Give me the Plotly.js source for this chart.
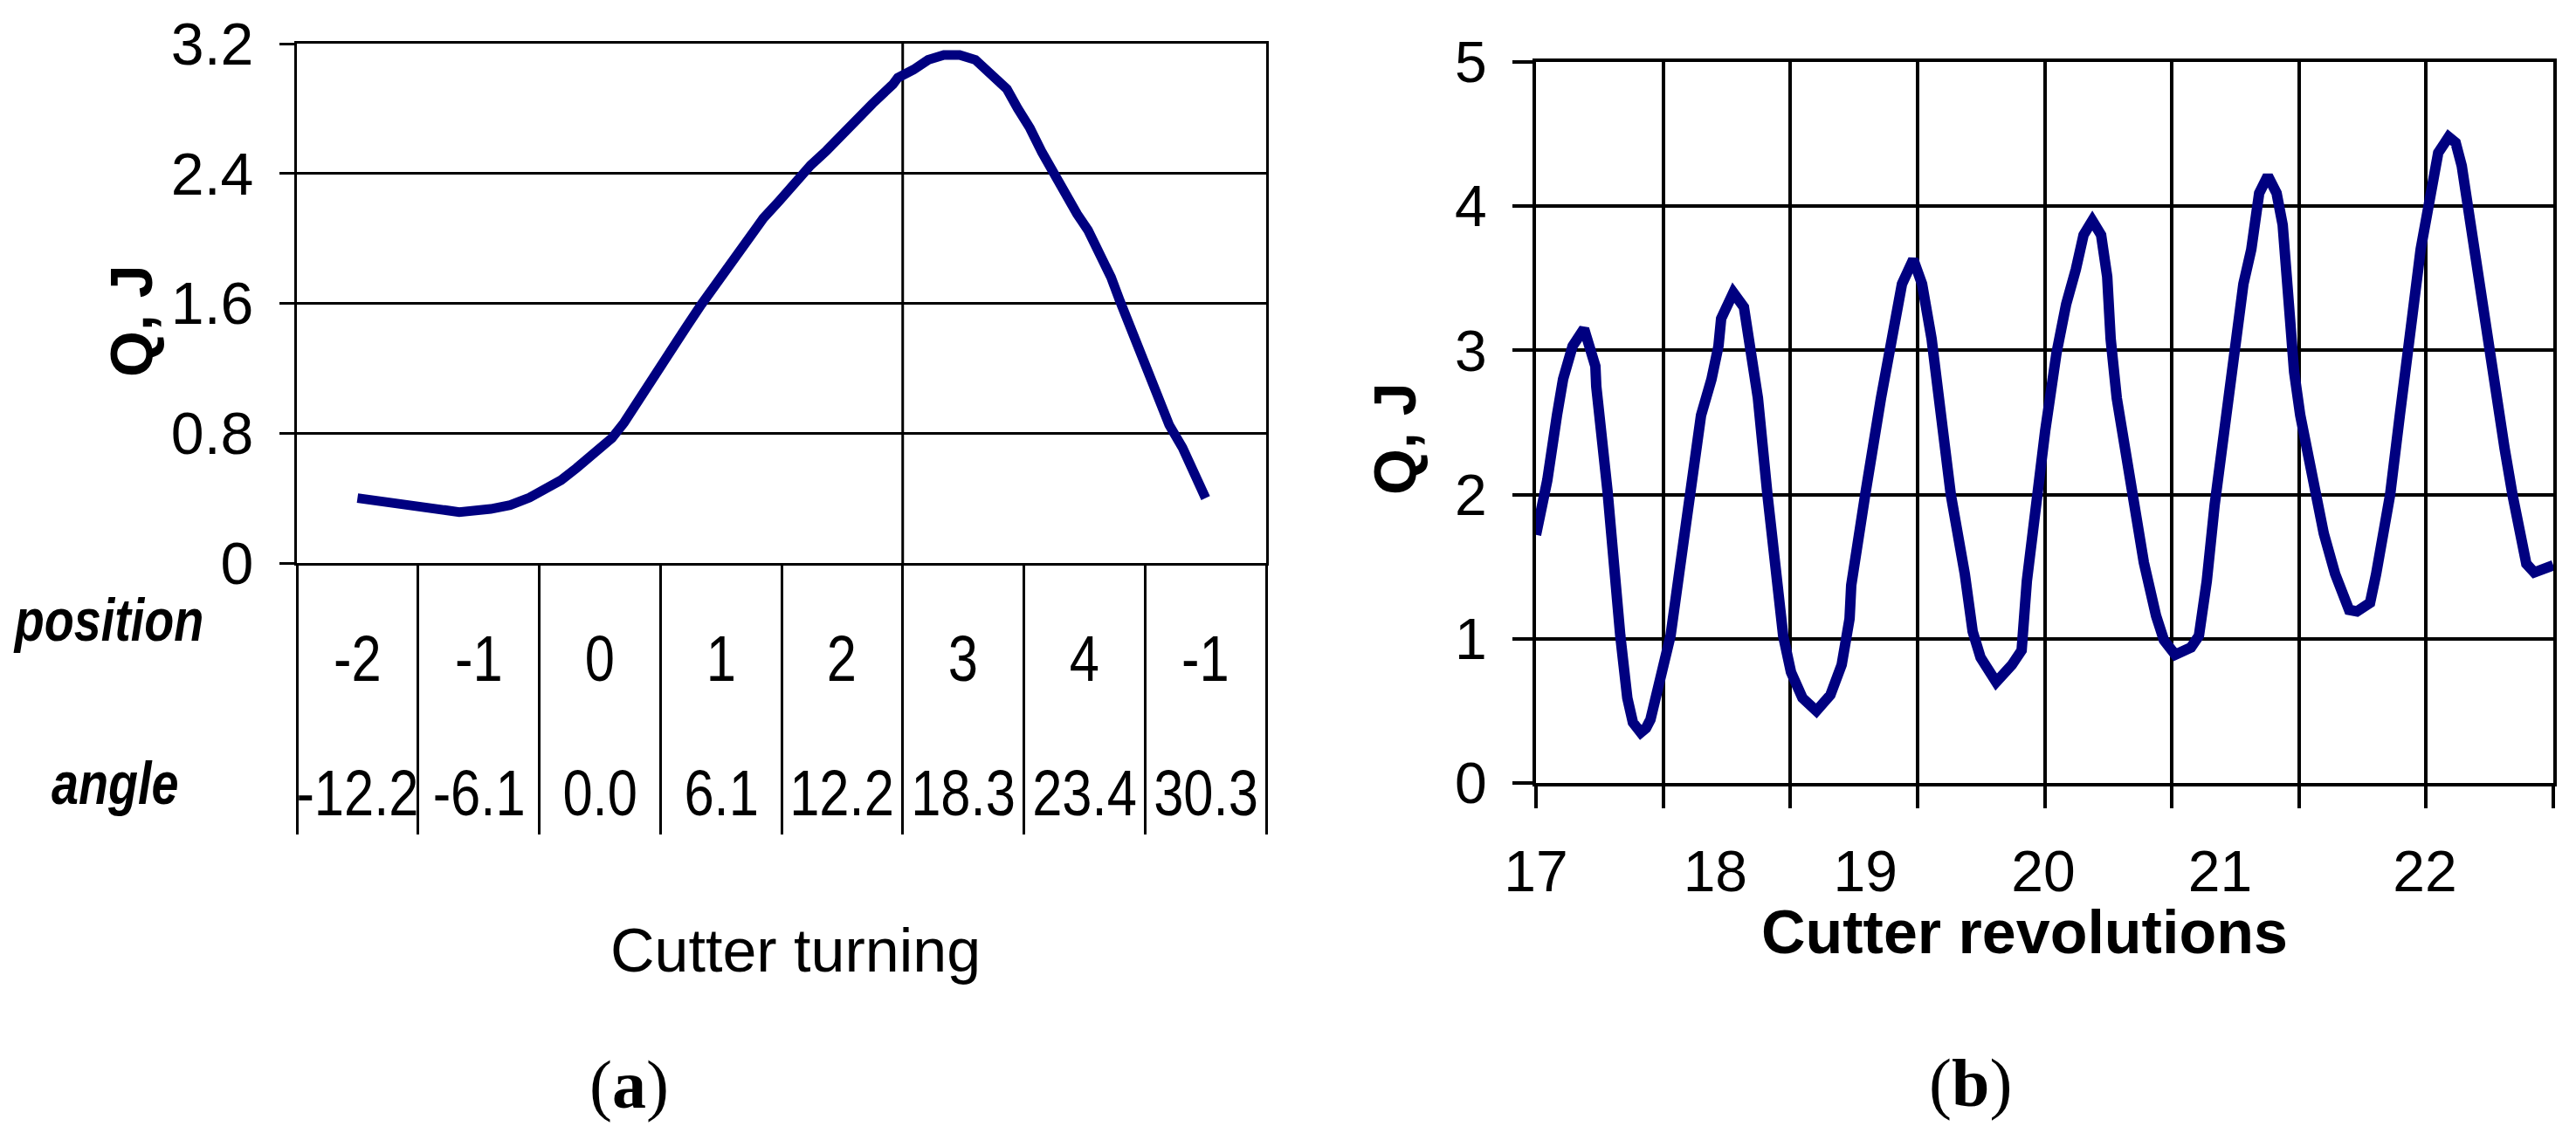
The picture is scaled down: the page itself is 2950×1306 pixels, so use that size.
<!DOCTYPE html>
<html><head><meta charset="utf-8">
<script src="https://cdn.plot.ly/plotly-3.0.1.min.js"></script>
<style>html,body{margin:0;padding:0;background:#fff;}#chart{width:2950px;height:1306px;}</style>
</head><body><div id="chart"></div>
<script>
// ---------- Panel (a): Q vs cutter turning ----------
const positionLabels = ['-2','-1','0','1','2','3','4','-1'];
const angleLabels = ['-12.2','-6.1','0.0','6.1','12.2','18.3','23.4','30.3'];
const turnX = [0.00,0.25,0.39,0.55,0.84,1.10,1.26,1.42,1.55,1.68,1.81,1.97,2.10,2.20,2.33,2.45,2.58,2.71,2.84,2.97,3.10,3.23,3.35,3.48,3.61,3.74,3.87,4.00,4.13,4.25,4.42,4.46,4.59,4.71,4.84,4.97,5.10,5.23,5.36,5.45,5.55,5.65,5.74,5.84,5.94,6.03,6.13,6.22,6.29,6.39,6.47,6.55,6.63,6.70,6.81,6.90,6.98,7.00];
const turnQ = [0.40,0.376,0.355,0.333,0.314,0.333,0.357,0.403,0.45,0.51,0.586,0.683,0.77,0.864,1.007,1.163,1.307,1.45,1.595,1.727,1.86,1.99,2.124,2.23,2.35,2.45,2.54,2.64,2.75,2.83,2.95,2.99,3.04,3.10,3.13,3.13,3.10,3.01,2.92,2.80,2.68,2.53,2.41,2.27,2.15,2.05,1.91,1.76,1.62,1.43,1.26,1.115,0.995,0.85,0.71,0.565,0.42,0.40];
const qTicksA = [0,0.8,1.6,2.4,3.2];
const qTickTextA = ['0','0.8','1.6','2.4','3.2'];

// ---------- Panel (b): Q vs cutter revolutions ----------
const revX = [0.000,0.089,0.165,0.213,0.288,0.378,0.467,0.474,0.563,0.611,0.663,0.718,0.762,0.824,0.865,0.900,0.975,1.058,1.133,1.209,1.298,1.380,1.435,1.456,1.552,1.635,1.696,1.745,1.820,1.882,1.944,2.005,2.095,2.205,2.315,2.404,2.466,2.479,2.527,2.589,2.713,2.802,2.878,2.967,3.036,3.111,3.173,3.262,3.372,3.434,3.496,3.585,3.619,3.743,3.819,3.860,3.942,4.004,4.093,4.169,4.245,4.306,4.375,4.444,4.492,4.519,4.567,4.629,4.718,4.780,4.876,4.938,5.027,5.151,5.213,5.275,5.337,5.398,5.426,5.474,5.515,5.563,5.625,5.687,5.755,5.824,5.872,5.920,5.962,6.010,6.071,6.133,6.195,6.284,6.346,6.394,6.456,6.559,6.607,6.669,6.717,6.793,6.854,6.896,6.957,7.005,7.053,7.095,7.177,7.232,7.280,7.328,7.390,7.452,7.493,7.555,7.617,7.679,7.740,7.788,7.850,7.912,8.000];
const revQ = [1.72,2.10,2.55,2.80,3.03,3.15,2.89,2.75,2.02,1.50,1.02,0.59,0.42,0.35,0.38,0.44,0.73,1.02,1.50,2.00,2.55,2.80,3.03,3.22,3.40,3.30,2.99,2.67,2.00,1.45,1.02,0.77,0.59,0.50,0.61,0.82,1.14,1.37,1.68,2.00,2.67,3.15,3.46,3.63,3.46,3.08,2.60,2.00,1.45,1.05,0.87,0.73,0.70,0.82,0.92,1.40,2.02,2.44,2.98,3.32,3.56,3.80,3.90,3.80,3.51,3.08,2.67,2.36,1.82,1.53,1.16,0.99,0.89,0.94,1.02,1.40,1.93,2.35,2.60,2.98,3.20,3.46,3.70,4.09,4.21,4.09,3.87,3.28,2.85,2.55,2.25,1.95,1.73,1.45,1.30,1.20,1.19,1.25,1.45,1.73,2.00,2.55,3.08,3.27,3.70,3.94,4.18,4.37,4.48,4.44,4.28,3.99,3.63,3.22,2.98,2.67,2.32,2.00,1.70,1.52,1.46,1.48,1.51];
const revLabelPos = [0,1.41,2.59,3.99,5.38,6.99];
const revLabels = ['17','18','19','20','21','22'];
const qTicksB = [0,1,2,3,4,5];

// ---------- layout helpers ----------
const W = 2950, H = 1306;
const px = v => v / W;
const py = v => 1 - v / H;
const SANS = 'Liberation Sans, Arial, sans-serif';
const SERIF = 'Liberation Serif, Times New Roman, serif';
const NAVY = '#000080';
const NARROW_SCALE = 0.82; // the category texts of panel (a) are set in a narrow face

const catEdges = positionLabels.map((_, i) => i - 0.5).concat([positionLabels.length - 0.5]);

const traces = [
  {x: turnX, y: turnQ, xaxis: 'x', yaxis: 'y', mode: 'lines',
   line: {color: NAVY, width: 11}, hoverinfo: 'skip'},
  {x: revX, y: revQ, xaxis: 'x2', yaxis: 'y2', mode: 'lines',
   line: {color: NAVY, width: 12}, hoverinfo: 'skip'},
  {x: revLabelPos, y: revLabelPos.map(() => null), xaxis: 'x3', yaxis: 'y2', mode: 'lines',
   line: {width: 0}, hoverinfo: 'skip'}
];

const annotations = [];
positionLabels.forEach((t, i) => annotations.push({xref: 'x', yref: 'paper', x: i, y: py(754), text: t,
  showarrow: false, xanchor: 'center', yanchor: 'middle', font: {family: SANS, size: 75, color: '#000'}}));
angleLabels.forEach((t, i) => annotations.push({xref: 'x', yref: 'paper', x: i, y: py(908), text: t,
  showarrow: false, xanchor: 'center', yanchor: 'middle', font: {family: SANS, size: 75, color: '#000'}}));
annotations.push(
  {xref: 'paper', yref: 'paper', x: px(124), y: py(710), text: 'position', showarrow: false,
   xanchor: 'center', yanchor: 'middle', font: {family: SANS, size: 68, color: '#000', weight: 700, style: 'italic'}},
  {xref: 'paper', yref: 'paper', x: px(132), y: py(897), text: 'angle', showarrow: false,
   xanchor: 'center', yanchor: 'middle', font: {family: SANS, size: 68, color: '#000', weight: 700, style: 'italic'}}
);
const condensedCount = annotations.length;
annotations.push(
  {xref: 'paper', yref: 'paper', x: px(911), y: py(1089), text: 'Cutter turning', showarrow: false,
   xanchor: 'center', yanchor: 'middle', font: {family: SANS, size: 70, color: '#000'}},
  {xref: 'paper', yref: 'paper', x: px(150), y: py(368), text: 'Q, J', showarrow: false, textangle: -90,
   xanchor: 'center', yanchor: 'middle', font: {family: SANS, size: 68, color: '#000', weight: 700}},
  {xref: 'paper', yref: 'paper', x: px(2318), y: py(1068), text: 'Cutter revolutions', showarrow: false,
   xanchor: 'center', yanchor: 'middle', font: {family: SANS, size: 70, color: '#000', weight: 700}},
  {xref: 'paper', yref: 'paper', x: px(1597), y: py(503), text: 'Q, J', showarrow: false, textangle: -90,
   xanchor: 'center', yanchor: 'middle', font: {family: SANS, size: 68, color: '#000', weight: 700}},
  {xref: 'paper', yref: 'paper', x: px(720), y: py(1242), text: '(<b>a</b>)', showarrow: false,
   xanchor: 'center', yanchor: 'middle', font: {family: SERIF, size: 78, color: '#000'}},
  {xref: 'paper', yref: 'paper', x: px(2256), y: py(1240), text: '(<b>b</b>)', showarrow: false,
   xanchor: 'center', yanchor: 'middle', font: {family: SERIF, size: 78, color: '#000'}}
);

const layout = {
  width: W, height: H, autosize: false,
  margin: {l: 0, r: 0, t: 0, b: 0, pad: 0},
  paper_bgcolor: '#fff', plot_bgcolor: '#fff',
  showlegend: false,
  xaxis: {domain: [px(340), px(1450)], range: [-0.5, 7.5], anchor: 'y',
    tickmode: 'array', tickvals: catEdges, ticks: 'outside', ticklen: 308, tickwidth: 3, tickcolor: '#000',
    showticklabels: false, showgrid: false, zeroline: false,
    showline: true, linecolor: '#000', linewidth: 3, mirror: true, fixedrange: true},
  yaxis: {domain: [py(645), py(50)], range: [0, 3.2], anchor: 'x',
    tickmode: 'array', tickvals: qTicksA, ticktext: qTickTextA,
    ticks: 'outside', ticklen: 17, tickwidth: 3, tickcolor: '#000',
    showgrid: true, gridcolor: '#000', gridwidth: 3, zeroline: false,
    showline: true, linecolor: '#000', linewidth: 3, mirror: true,
    tickfont: {family: SANS, size: 68, color: '#000'}, ticklabelstandoff: 16, fixedrange: true},
  xaxis2: {domain: [px(1759), px(2924)], range: [0, 8], anchor: 'y2',
    tickmode: 'linear', tick0: 0, dtick: 1, ticks: 'outside', ticklen: 25, tickwidth: 4, tickcolor: '#000',
    showticklabels: false, showgrid: true, gridcolor: '#000', gridwidth: 4, zeroline: false,
    showline: true, linecolor: '#000', linewidth: 4, mirror: true, fixedrange: true},
  xaxis3: {overlaying: 'x2', range: [0, 8], anchor: 'y2', side: 'bottom',
    tickmode: 'array', tickvals: revLabelPos, ticktext: revLabels, ticks: '',
    showgrid: false, zeroline: false, showline: false,
    tickfont: {family: SANS, size: 66, color: '#000'}, ticklabelstandoff: 57, fixedrange: true},
  yaxis2: {domain: [py(897), py(71)], range: [0, 5], anchor: 'x2',
    tickmode: 'array', tickvals: qTicksB, ticks: 'outside', ticklen: 23, tickwidth: 4, tickcolor: '#000',
    showgrid: true, gridcolor: '#000', gridwidth: 4, zeroline: false,
    showline: true, linecolor: '#000', linewidth: 4, mirror: true,
    tickfont: {family: SANS, size: 66, color: '#000'}, ticklabelstandoff: 16, fixedrange: true},
  shapes: [
    {type: 'line', xref: 'x', yref: 'y', x0: 4.5, x1: 4.5, y0: 0, y1: 3.2, layer: 'below',
     line: {color: '#000', width: 3}}
  ],
  annotations: annotations
};

Plotly.newPlot('chart', traces, layout, {staticPlot: true, displayModeBar: false}).then(gd => {
  // narrow the category texts horizontally around their own centres
  gd.querySelectorAll('g.annotation').forEach(g => {
    const idx = +g.getAttribute('data-index');
    if (!(idx < condensedCount)) return;
    const t = g.querySelector('text.annotation-text');
    if (!t) return;
    const bb = t.getBBox();
    const cx = bb.x + bb.width / 2;
    t.setAttribute('transform', `translate(${cx},0) scale(${NARROW_SCALE},1) translate(${-cx},0)`);
  });
});
</script>
</body></html>
